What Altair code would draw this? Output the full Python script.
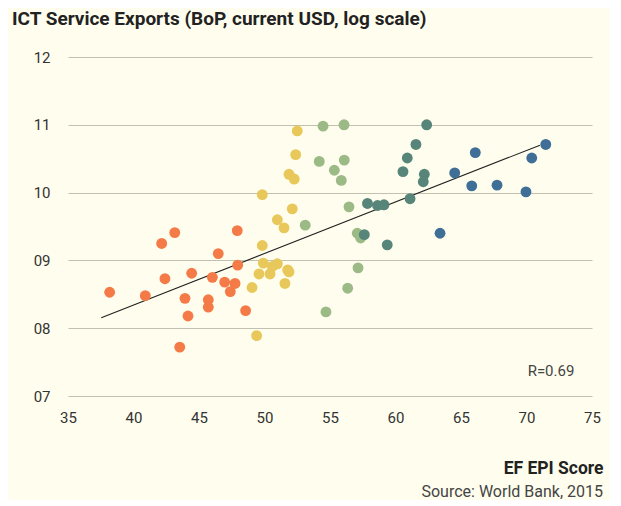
import altair as alt
import pandas as pd

# EF EPI score (x) and log10 ICT service exports (y), by proficiency band
orange_x = [38.18, 40.90, 42.15, 42.40, 43.15, 43.53, 43.93, 44.16, 44.44, 45.71, 45.71, 46.02, 46.47, 46.96, 47.39, 47.75, 47.92, 47.95, 48.56]
orange_y = [8.53, 8.48, 9.25, 8.73, 9.41, 7.72, 8.44, 8.18, 8.81, 8.42, 8.31, 8.75, 9.10, 8.68, 8.54, 8.66, 9.44, 8.93, 8.26]
yellow_x = [52.50, 52.38, 51.87, 52.27, 49.83, 52.12, 50.98, 51.49, 49.83, 49.91, 49.58, 50.42, 50.60, 50.98, 51.77, 51.87, 51.56, 49.05, 49.40]
yellow_y = [10.91, 10.56, 10.27, 10.20, 9.97, 9.76, 9.60, 9.48, 9.22, 8.96, 8.80, 8.80, 8.91, 8.95, 8.86, 8.83, 8.66, 8.60, 7.89]
green_x = [54.47, 56.07, 54.18, 56.09, 55.33, 55.86, 56.45, 53.11, 57.08, 57.34, 57.14, 56.35, 54.69]
green_y = [10.98, 11.00, 10.46, 10.48, 10.33, 10.18, 9.79, 9.52, 9.40, 9.33, 8.89, 8.59, 8.24]
teal_x = [62.38, 61.56, 60.90, 60.57, 62.20, 62.12, 61.11, 57.86, 58.63, 59.12, 57.62, 59.37]
teal_y = [11.00, 10.71, 10.51, 10.31, 10.27, 10.16, 9.91, 9.84, 9.81, 9.82, 9.38, 9.23]
blue_x = [71.47, 66.09, 70.40, 64.52, 65.82, 67.75, 69.96, 63.40]
blue_y = [10.71, 10.59, 10.51, 10.29, 10.10, 10.11, 10.01, 9.40]

groups = ["very low", "low", "moderate", "high", "very high"]
group_colors = ["#F47B48", "#E8C85A", "#9BBA86", "#578579", "#3F6F96"]

trend_x = [37.54, 71.03]
trend_y = [8.155, 10.70]

x_ticks = [35, 40, 45, 50, 55, 60, 65, 70, 75]
y_ticks = [7, 8, 9, 10, 11, 12]

rows = []
for g, xs, ys in zip(groups, [orange_x, yellow_x, green_x, teal_x, blue_x],
                     [orange_y, yellow_y, green_y, teal_y, blue_y]):
    for a, b in zip(xs, ys):
        rows.append({"epi": a, "ict": b, "band": g})
df = pd.DataFrame(rows)
trend = pd.DataFrame({"epi": trend_x, "ict": trend_y})

FONT = "Roboto"

xs = alt.Scale(domain=[35, 75], nice=False)
ys = alt.Scale(domain=[7, 12], nice=False)

points = alt.Chart(df).mark_circle(size=118, opacity=1).encode(
    x=alt.X("epi:Q", scale=xs,
            axis=alt.Axis(values=x_ticks, grid=False, domain=False, ticks=False,
                          labelFlush=False,
                          labelPadding=14, labelFontSize=15, labelColor="#333333",
                          labelFont=FONT, title="EF EPI Score", titleFont=FONT,
                          titleFontSize=17.5, titleFontWeight="bold", titleColor="#222222",
                          titleAnchor="end", titleAlign="right", titleX=535, titleY=72,
                          titleBaseline="middle")),
    y=alt.Y("ict:Q", scale=ys,
            axis=alt.Axis(values=y_ticks, grid=True, gridColor="#C2C0AE", gridWidth=1.2,
                          domain=False, ticks=False, labelPadding=18, labelFontSize=15,
                          labelFlush=False,
                          labelColor="#333333", labelFont=FONT, title=None,
                          labelExpr="datum.value < 10 ? '0' + datum.value : '' + datum.value")),
    color=alt.Color("band:N", scale=alt.Scale(domain=groups, range=group_colors), legend=None),
)

line = alt.Chart(trend).mark_line(color="#222222", strokeWidth=1.1).encode(
    x=alt.X("epi:Q", scale=xs), y=alt.Y("ict:Q", scale=ys)
)

blank = alt.Data(values=[{"a": 1}])

title = alt.Chart(blank).mark_text(
    align="left", baseline="alphabetic", font=FONT, fontSize=19, fontWeight="bold", color="#222222"
).encode(x=alt.value(-56), y=alt.value(-32),
         text=alt.value("ICT Service Exports (BoP, current USD, log scale)"))

source = alt.Chart(blank).mark_text(
    align="right", baseline="middle", font=FONT, fontSize=16, color="#444444"
).encode(x=alt.value(535), y=alt.value(435), text=alt.value("Source: World Bank, 2015"))

rtext = alt.Chart(blank).mark_text(
    align="center", baseline="middle", font=FONT, fontSize=15, color="#444444"
).encode(x=alt.value(483), y=alt.value(314), text=alt.value("R=0.69"))

chart = alt.layer(line, points, title, source, rtext).properties(
    width=524, height=339,
    background="#FFFEEE",
    padding={"left": 60, "top": 49, "right": 18, "bottom": 104},
    autosize=alt.AutoSizeParams(type="none"),
).configure_view(stroke=None)

chart.save("out.html", embed_options={"renderer": "svg", "actions": False})
